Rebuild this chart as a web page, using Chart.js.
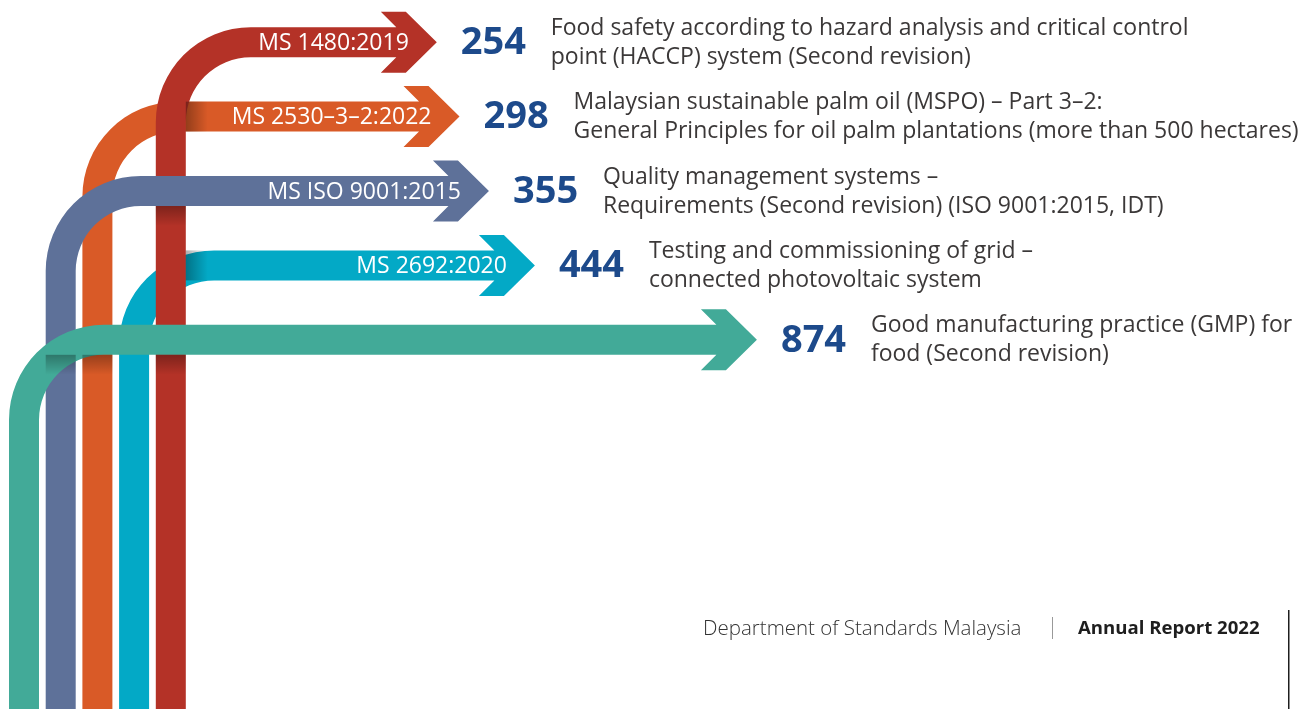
<!DOCTYPE html>
<html>
<head>
<meta charset="utf-8">
<script src="https://cdn.jsdelivr.net/npm/chart.js@4.4.1/dist/chart.umd.min.js"></script>
<style>
  html, body { margin: 0; padding: 0; background: #ffffff; }
  #wrap { width: 1314px; height: 709px; position: relative; }
</style>
</head>
<body>
<div id="wrap"><canvas id="c" width="1314" height="709"></canvas></div>
<script>
// ---------- DATA ----------
const categories = ['MS 1480:2019', 'MS 2530–3–2:2022', 'MS ISO 9001:2015', 'MS 2692:2020', ''];
const values = [254, 298, 355, 444, 874];
const descLine1 = [
  'Food safety according to hazard analysis and critical control',
  'Malaysian sustainable palm oil (MSPO) – Part 3–2:',
  'Quality management systems –',
  'Testing and commissioning of grid –',
  'Good manufacturing practice (GMP) for'
];
const descLine2 = [
  'point (HACCP) system (Second revision)',
  'General Principles for oil palm plantations (more than 500 hectares)',
  'Requirements (Second revision) (ISO 9001:2015, IDT)',
  'connected photovoltaic system',
  'food (Second revision)'
];
const footerLeft = 'Department of Standards Malaysia';
const footerRight = 'Annual Report 2022';

// ---------- STYLE ----------
const arrowColors = ['#b43227', '#d95a27', '#5e7199', '#03a9c6', '#42aa98'];
const stemSlot = [4, 2, 1, 3, 0];       // left-to-right slot of each stem
const drawOrder = [3, 1, 0, 2, 4];       // back to front
const numberColor = '#1d4a8b';
const textColor = '#3b3838';

function arrowPath(ctx, cx, cy, tip, w, R, H) {
  const h = w / 2, headHalf = w + 0.5, back = 56, flat = 31;
  const notch = back - (headHalf - h);
  ctx.beginPath();
  ctx.moveTo(cx - h, H);
  ctx.lineTo(cx - h, cy + R);
  ctx.arc(cx + R, cy + R, R + h, Math.PI, 1.5 * Math.PI);
  ctx.lineTo(tip - notch, cy - h);
  ctx.lineTo(tip - back, cy - headHalf);
  ctx.lineTo(tip - flat, cy - headHalf);
  ctx.lineTo(tip, cy);
  ctx.lineTo(tip - flat, cy + headHalf);
  ctx.lineTo(tip - back, cy + headHalf);
  ctx.lineTo(tip - notch, cy + h);
  ctx.lineTo(cx + R, cy + h);
  ctx.arc(cx + R, cy + R, R - h, 1.5 * Math.PI, Math.PI, true);
  ctx.lineTo(cx + h, H);
  ctx.closePath();
}

function shadeH(ctx, x0, x1, y0, y1) {
  const g = ctx.createLinearGradient(x0, 0, x1, 0);
  g.addColorStop(0, 'rgba(0,0,0,0.32)');
  g.addColorStop(1, 'rgba(0,0,0,0)');
  ctx.fillStyle = g;
  ctx.fillRect(x0, y0, x1 - x0, y1 - y0);
}
function shadeV(ctx, x0, x1, y0, y1) {
  const g = ctx.createLinearGradient(0, y0, 0, y1);
  g.addColorStop(0, 'rgba(0,0,0,0.30)');
  g.addColorStop(1, 'rgba(0,0,0,0)');
  ctx.fillStyle = g;
  ctx.fillRect(x0, y0, x1 - x0, y1 - y0);
}

const arrowsPlugin = {
  id: 'arrows',
  afterDatasetsDraw(chart) {
    const ctx = chart.ctx;
    const meta = chart.getDatasetMeta(0);
    const H = chart.height;
    const R = 80;
    const stemX = i => 24 + stemSlot[i] * 36.7;
    const geo = meta.data.map((el, i) => ({ tip: el.x, cy: el.y, w: el.height, cx: stemX(i) }));
    ctx.save();
    drawOrder.forEach(i => {
      const g = geo[i];
      arrowPath(ctx, g.cx, g.cy, g.tip, g.w, R, H);
      ctx.fillStyle = arrowColors[i];
      ctx.fill();
      const earlier = drawOrder.slice(0, drawOrder.indexOf(i));
      earlier.forEach(j => {
        const s = geo[j];
        if (s.cx > g.cx && s.cy + R < g.cy) {
          shadeV(ctx, s.cx - s.w / 2, s.cx + s.w / 2, g.cy + g.w / 2, g.cy + g.w / 2 + 20);
        }
      });
      earlier.forEach(j => {
        const s = geo[j];
        if (s.cy > g.cy && s.cx < g.cx) {
          shadeH(ctx, g.cx + g.w / 2, g.cx + g.w / 2 + 22, s.cy - s.w / 2, s.cy + s.w / 2);
        }
      });
    });
    // texts
    ctx.textBaseline = 'middle';
    geo.forEach((g, i) => {
      if (categories[i]) {
        ctx.fillStyle = '#ffffff';
        ctx.textAlign = 'right';
        ctx.font = '500 23px "Open Sans", sans-serif';
        ctx.fillText(categories[i], g.tip - 28, g.cy + 1);
      }
      ctx.textAlign = 'left';
      ctx.fillStyle = numberColor;
      ctx.font = '700 38px "Open Sans", sans-serif';
      ctx.fillText(String(values[i]), g.tip + 24, g.cy + 1);
      ctx.fillStyle = textColor;
      ctx.font = '400 23px "Open Sans", sans-serif';
      ctx.fillText(descLine1[i], g.tip + 114, g.cy - 14);
      ctx.fillText(descLine2[i], g.tip + 114, g.cy + 15);
    });
    // footer
    ctx.textAlign = 'left';
    ctx.fillStyle = '#333333';
    ctx.font = '300 20.5px "Open Sans", sans-serif';
    ctx.fillText(footerLeft, 703, 629);
    ctx.fillStyle = '#999999';
    ctx.fillRect(1052, 617, 1, 22);
    ctx.fillStyle = '#1e1e1e';
    ctx.font = '700 18.6px "Open Sans", sans-serif';
    ctx.fillText(footerRight, 1078, 629);
    ctx.fillRect(1288, 610, 1.5, 99);
    ctx.restore();
  }
};

new Chart(document.getElementById('c'), {
  type: 'bar',
  data: {
    labels: categories,
    datasets: [{ data: values, backgroundColor: 'rgba(0,0,0,0)', barThickness: 30 }]
  },
  options: {
    indexAxis: 'y',
    responsive: false,
    animation: false,
    layout: { padding: { top: 5, bottom: 332, left: 0, right: 0 } },
    plugins: { legend: { display: false }, tooltip: { enabled: false } },
    scales: {
      x: { type: 'linear', min: -592, max: 1953, display: false },
      y: { display: false, offset: true }
    }
  },
  plugins: [arrowsPlugin]
});
</script>
</body>
</html>
